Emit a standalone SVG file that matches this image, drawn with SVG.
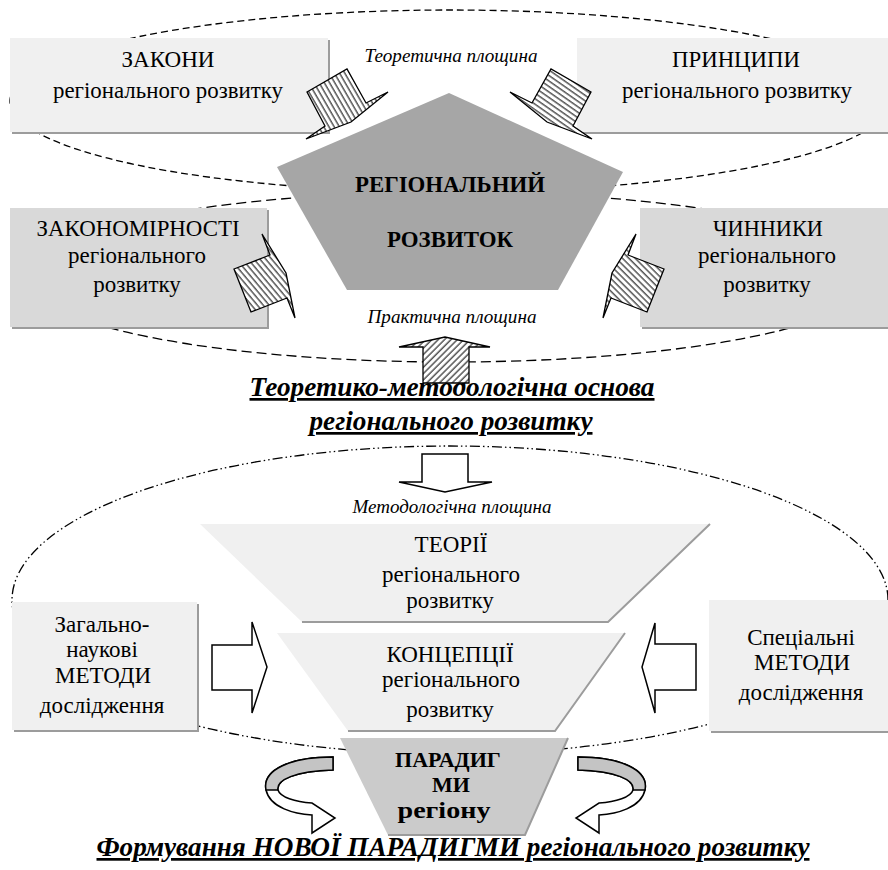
<svg xmlns="http://www.w3.org/2000/svg" width="888" height="870" viewBox="0 0 888 870" font-family="Liberation Serif">
<defs>
<style>
.plane{fill:none;stroke:#000;stroke-width:1.3}
.light{fill:#f0f0f0}
.mid{fill:#d9d9d9}
.shadow{fill:none;stroke:#9c9c9c;stroke-width:2}
.harrow{stroke:#000;stroke-width:1.3}
.warrow{fill:#fff;stroke:#000;stroke-width:1.5}
</style>
<pattern id="h1" width="4.5" height="4.5" patternUnits="userSpaceOnUse" patternTransform="rotate(-30)"><rect width="4.5" height="4.5" fill="#fff"/><line x1="1" y1="0" x2="1" y2="4.5" stroke="#000" stroke-width="1"/></pattern>
<pattern id="h2" width="4.5" height="4.5" patternUnits="userSpaceOnUse" patternTransform="rotate(-55)"><rect width="4.5" height="4.5" fill="#fff"/><line x1="1" y1="0" x2="1" y2="4.5" stroke="#000" stroke-width="1"/></pattern>
<pattern id="h3" width="4.5" height="4.5" patternUnits="userSpaceOnUse" patternTransform="rotate(-40)"><rect width="4.5" height="4.5" fill="#fff"/><line x1="1" y1="0" x2="1" y2="4.5" stroke="#000" stroke-width="1"/></pattern>
<pattern id="h4" width="4.5" height="4.5" patternUnits="userSpaceOnUse" patternTransform="rotate(-45)"><rect width="4.5" height="4.5" fill="#fff"/><line x1="1" y1="0" x2="1" y2="4.5" stroke="#000" stroke-width="1"/></pattern>
<pattern id="h5" width="4.5" height="4.5" patternUnits="userSpaceOnUse" patternTransform="rotate(45)"><rect width="4.5" height="4.5" fill="#fff"/><line x1="1" y1="0" x2="1" y2="4.5" stroke="#000" stroke-width="1"/></pattern>
<path id="cycle" d="M333,757 C290,757 262,770 266,790 C270,808 295,814 312,815 L312,833 L335,818 L312,803 C295,802 280,797 278,790 C276,780 295,771 333,770 Z" fill="#fff" stroke="#000" stroke-width="1.5"/>
<path id="cycle-back" d="M333,757 C290,757 262,770 266,790 L278,790 C276,780 295,771 333,770 Z" fill="#c4c4c4" stroke="#000" stroke-width="1.5"/>
</defs>
<rect width="888" height="870" fill="#fff"/>

<g id="planes">
<ellipse class="plane" cx="450" cy="101" rx="440" ry="91" stroke-dasharray="7 4"/>
<ellipse class="plane" cx="450" cy="277" rx="425" ry="85" stroke-dasharray="10 5"/>
<ellipse class="plane" cx="450" cy="600" rx="438" ry="154" stroke-dasharray="10 3 1.5 3 1.5 3"/>
</g>

<g id="plane-labels" text-anchor="middle">
<text font-family="Liberation Serif" font-style="italic" font-size="18" x="451" y="62" textLength="173" lengthAdjust="spacingAndGlyphs">Теоретична площина</text>
<text font-family="Liberation Serif" font-style="italic" font-size="18" x="452" y="323" textLength="169" lengthAdjust="spacingAndGlyphs">Практична площина</text>
<text font-family="Liberation Serif" font-style="italic" font-size="19" x="452" y="513">Методологічна площина</text>
</g>

<g id="zakony" text-anchor="middle">
<rect class="light" x="10" y="38" width="318" height="94"/>
<polyline class="shadow" points="12,133 329,133 329,40"/>
<text font-family="Liberation Serif" font-size="23" x="168" y="67" textLength="93" lengthAdjust="spacingAndGlyphs">ЗАКОНИ</text>
<text font-family="Liberation Serif" font-size="23" x="168" y="98" textLength="230" lengthAdjust="spacingAndGlyphs">регіонального розвитку</text>
</g>

<g id="pryntsypy" text-anchor="middle">
<rect class="light" x="577" y="38" width="311" height="94"/>
<polyline class="shadow" points="579,133 888,133"/>
<text font-family="Liberation Serif" font-size="23" x="736" y="67" textLength="128" lengthAdjust="spacingAndGlyphs">ПРИНЦИПИ</text>
<text font-family="Liberation Serif" font-size="23" x="737" y="98" textLength="230" lengthAdjust="spacingAndGlyphs">регіонального розвитку</text>
</g>

<g id="zakonomirnosti" text-anchor="middle">
<rect class="mid" x="10" y="208" width="257" height="119"/>
<polyline class="shadow" points="12,328 268,328 268,210"/>
<text font-family="Liberation Serif" font-size="23" x="138" y="236" textLength="203" lengthAdjust="spacingAndGlyphs">ЗАКОНОМІРНОСТІ</text>
<text font-family="Liberation Serif" font-size="23" x="137" y="263">регіонального</text>
<text font-family="Liberation Serif" font-size="23" x="137" y="292">розвитку</text>
</g>

<g id="chynnyky" text-anchor="middle">
<rect class="mid" x="640" y="208" width="248" height="119"/>
<polyline class="shadow" points="642,328 888,328"/>
<text font-family="Liberation Serif" font-size="23" x="768" y="236" textLength="110" lengthAdjust="spacingAndGlyphs">ЧИННИКИ</text>
<text font-family="Liberation Serif" font-size="23" x="767" y="263">регіонального</text>
<text font-family="Liberation Serif" font-size="23" x="767" y="292">розвитку</text>
</g>

<g id="rehionalnyi-rozvytok" text-anchor="middle">
<polygon points="449,93 623,172 558,290 347,290 277,167" fill="#a6a6a6"/>
<text font-family="Liberation Serif" font-weight="bold" font-size="23" x="450" y="192" textLength="190" lengthAdjust="spacingAndGlyphs">РЕГІОНАЛЬНИЙ</text>
<text font-family="Liberation Serif" font-weight="bold" font-size="23" x="450" y="247" textLength="126" lengthAdjust="spacingAndGlyphs">РОЗВИТОК</text>
</g>

<g id="osnova-title" text-anchor="middle">
<text font-family="Liberation Serif" font-weight="bold" font-style="italic" text-decoration="underline" font-size="27" x="452" y="396" textLength="405" lengthAdjust="spacingAndGlyphs">Теоретико-методологічна основа</text>
<text font-family="Liberation Serif" font-weight="bold" font-style="italic" text-decoration="underline" font-size="27" x="451" y="430" textLength="283" lengthAdjust="spacingAndGlyphs">регіонального розвитку</text>
</g>

<g id="teorii" text-anchor="middle">
<polygon class="light" points="200,524 710,524 608,622 302,622"/>
<polyline class="shadow" points="710,524 608,622 302,622"/>
<text font-family="Liberation Serif" font-size="23" x="451" y="552">ТЕОРІЇ</text>
<text font-family="Liberation Serif" font-size="23" x="451" y="582">регіонального</text>
<text font-family="Liberation Serif" font-size="23" x="450" y="608">розвитку</text>
</g>

<g id="kontseptsii" text-anchor="middle">
<polygon class="light" points="277,633 625,633 555,731 348,731"/>
<polyline class="shadow" points="625,633 555,731 348,731"/>
<text font-family="Liberation Serif" font-size="23" x="450" y="662">КОНЦЕПЦІЇ</text>
<text font-family="Liberation Serif" font-size="23" x="451" y="687">регіонального</text>
<text font-family="Liberation Serif" font-size="23" x="450" y="717">розвитку</text>
</g>

<g id="paradyhmy" text-anchor="middle">
<polygon points="340,738 568,738 525,835 388,835" fill="#cbcbcb"/>
<polyline class="shadow" points="568,738 525,835 388,835"/>
<text font-family="Liberation Serif" font-weight="bold" font-size="22" x="448" y="767">ПАРАДИГ</text>
<text font-family="Liberation Serif" font-weight="bold" font-size="22" x="451" y="792">МИ</text>
<text font-family="Liberation Serif" font-weight="bold" font-size="24" x="444" y="818" textLength="93" lengthAdjust="spacingAndGlyphs">регіону</text>
</g>

<g id="zahalno-metody" text-anchor="middle">
<rect class="light" x="12" y="602" width="185" height="128"/>
<polyline class="shadow" points="14,731 198,731 198,604"/>
<text font-family="Liberation Serif" font-size="23" x="102" y="632">Загально-</text>
<text font-family="Liberation Serif" font-size="23" x="102" y="657">наукові</text>
<text font-family="Liberation Serif" font-size="23" x="103" y="683">МЕТОДИ</text>
<text font-family="Liberation Serif" font-size="23" x="102" y="713">дослідження</text>
</g>

<g id="spetsialni-metody" text-anchor="middle">
<rect class="light" x="709" y="600" width="179" height="131"/>
<polyline class="shadow" points="711,732 888,732"/>
<text font-family="Liberation Serif" font-size="23" x="801" y="645">Спеціальні</text>
<text font-family="Liberation Serif" font-size="23" x="802" y="670">МЕТОДИ</text>
<text font-family="Liberation Serif" font-size="23" x="801" y="700">дослідження</text>
</g>

<g id="connectors">
<polygon class="harrow" fill="url(#h1)" points="307,92 347,69 366,103 388,92 351,122 306,139 325,126"/>
<polygon class="harrow" fill="url(#h2)" points="591,92 551,69 532,103 510,92 547,122 592,139 573,126"/>
<polygon class="harrow" fill="url(#h3)" points="234,269 270,255 262,234 286,273 295,318 287,298 251,312"/>
<polygon class="harrow" fill="url(#h4)" points="664,269 628,255 636,234 612,273 603,318 611,298 647,312"/>
<polygon class="harrow" fill="url(#h5)" points="423,383 423,347 399,347 445,337 490,347 469,347 469,383"/>
<polygon class="warrow" points="422,454 468,454 468,482 492,482 445,492 399,482 422,482"/>
<polygon class="warrow" points="212,645 252,645 252,622 267,667 252,713 252,690 212,690"/>
<polygon class="warrow" points="696,644 655,644 655,623 642,667 655,713 655,690 696,690"/>
<g id="cycle-left"><use href="#cycle"/><use href="#cycle-back"/></g>
<g id="cycle-right" transform="translate(911,0) scale(-1,1)"><use href="#cycle"/><use href="#cycle-back"/></g>
</g>

<g id="final-title" text-anchor="middle">
<text font-family="Liberation Serif" font-weight="bold" font-style="italic" text-decoration="underline" font-size="27" x="453" y="856" textLength="713" lengthAdjust="spacingAndGlyphs">Формування НОВОЇ ПАРАДИГМИ регіонального розвитку</text>
</g>
</svg>
